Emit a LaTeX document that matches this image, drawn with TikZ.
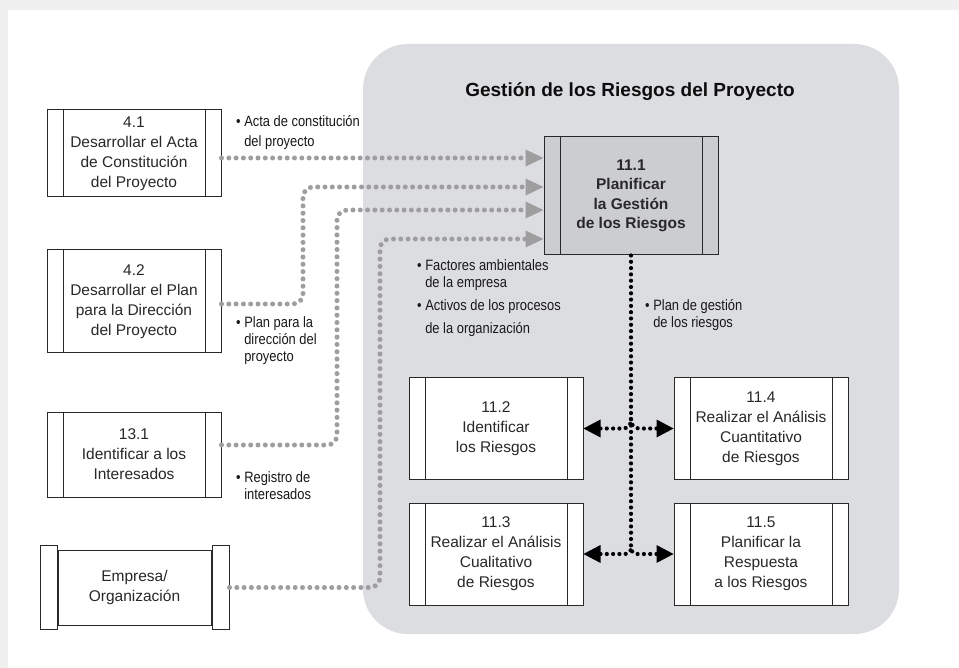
\documentclass[tikz,border=0pt]{standalone}
\usepackage{fontspec}
\setmainfont{Liberation Sans}
\newfontfamily\narrowfont[FakeStretch=0.86]{Liberation Sans}
\usetikzlibrary{arrows.meta, positioning}

\definecolor{zoneGray}{RGB}{220,221,224}
\definecolor{procGray}{RGB}{204,205,208}
\definecolor{dotGray}{RGB}{158,158,158}
\definecolor{pageGray}{RGB}{240,240,240}
\definecolor{inkDark}{RGB}{40,40,40}

\tikzset{
  proc/.style={draw=inkDark, fill=white, line width=1pt, minimum width=174pt, inner sep=0pt,
    align=center, text=inkDark, font=\fontsize{15.5}{20}\selectfont,
    path picture={\draw[inkDark, line width=1pt]
      ([xshift=16pt]path picture bounding box.north west) -- ([xshift=16pt]path picture bounding box.south west)
      ([xshift=-16pt]path picture bounding box.north east) -- ([xshift=-16pt]path picture bounding box.south east);}},
  scrollbar/.style={draw=inkDark, fill=white, line width=1pt, minimum width=17pt, minimum height=84pt, inner sep=0pt},
  note/.style={align=left, inner sep=0pt, anchor=west, text=black!90, font=\narrowfont\fontsize{15}{17}\selectfont},
  gline/.style={dotGray, line width=5pt, line cap=round, dash pattern=on 0pt off 7.3pt, rounded corners=10pt},
  ghead/.style={-{Triangle[length=18pt, width=17pt, line width=0pt]}},
  kline/.style={black, line width=4.2pt, line cap=round, dash pattern=on 0pt off 6.3pt},
  khead/.style={{Triangle[length=17pt, width=18pt, line width=0pt]}-}
}

\begin{document}
\begin{tikzpicture}[x=1pt, y=-1pt]
    \useasboundingbox (0,0) rectangle (959,668);
    % Page
    \fill[pageGray] (0,0) rectangle (959,668);
    \fill[white] (8,10) rectangle (959,668);
    % Knowledge area zone
    \fill[zoneGray, rounded corners=45pt] (363,44) rectangle (899,634);
    \node[font=\bfseries\fontsize{19}{22}\selectfont, text=black!95] (title) at (630,92) {Gestión de los Riesgos del Proyecto};
    % Outside processes
    \node[proc, minimum height=87pt] (n41) at (134,153.5) {4.1\\Desarrollar el Acta\\de Constitución\\del Proyecto};
    \node[proc, minimum height=103pt] (n42) at (134,301.5) {4.2\\Desarrollar el Plan\\para la Dirección\\del Proyecto};
    \node[proc, minimum height=85pt] (n131) at (134,454.5) {13.1\\Identificar a los\\Interesados};
    \node[draw=inkDark, fill=white, line width=1pt, minimum width=153pt, minimum height=75pt, inner sep=0pt,
          align=center, text=inkDark, font=\fontsize{15.5}{20}\selectfont] (emp) at (134.5,587.5) {Empresa/\\Organización};
    \node[scrollbar, anchor=east] (empL) at (emp.west) {};
    \node[scrollbar, anchor=west] (empR) at (emp.east) {};
    % Risk processes
    \node[proc, fill=procGray, minimum height=118pt, font=\bfseries\fontsize{15.5}{19.5}\selectfont] (p1) at (631,196) {11.1\\Planificar\\la Gestión\\de los Riesgos};
    \node[proc, minimum height=101pt] (p2) at (496,428.5) {11.2\\Identificar\\los Riesgos};
    \node[proc, minimum height=102pt] (p3) at (496,554) {11.3\\Realizar el Análisis\\Cualitativo\\de Riesgos};
    \node[proc, minimum height=101pt] (p4) at (761,428.5) {11.4\\Realizar el Análisis\\Cuantitativo\\de Riesgos};
    \node[proc, minimum height=102pt] (p5) at (761,554) {11.5\\Planificar la\\Respuesta\\a los Riesgos};
    % Inputs
    \draw[gline, ghead] (n41.east |- 0,158) -- (p1.west |- 0,158);
    \draw[gline, ghead] (n42.east |- 0,304) -| (303,187) -- (p1.west |- 0,187);
    \draw[gline, ghead] (n131.east |- 0,445) -| (337,210) -- (p1.west |- 0,210);
    \draw[gline, ghead] (empR.east) -| (380,239) -- (p1.west |- 0,239);
    % Output to the other processes
    \coordinate (jlow) at (p1.south |- 0,545);
    \draw[kline] (p1.south) -- (jlow);
    \draw[kline, khead, rounded corners=8pt] (p2.east) -| (p1.south |- 0,418);
    \draw[kline, khead, rounded corners=8pt] (p4.west) -| (p1.south |- 0,418);
    \draw[kline, khead, rounded corners=6pt] (p3.east) -| (jlow);
    \draw[kline, khead, rounded corners=6pt] (p5.west) -| (jlow);
    % Labels
    \node[note, font=\narrowfont\fontsize{15}{20}\selectfont] (lActa) at (236,133) {\textbullet\ Acta de constitución\\\phantom{\textbullet\ }del proyecto};
    \node[note] (lPlan) at (236,341) {\textbullet\ Plan para la\\\phantom{\textbullet\ }dirección del\\\phantom{\textbullet\ }proyecto};
    \node[note] (lReg) at (236,486) {\textbullet\ Registro de\\\phantom{\textbullet\ }interesados};
    \node[note] (lFact) at (417,275) {\textbullet\ Factores ambientales\\\phantom{\textbullet\ }de la empresa};
    \node[note, font=\narrowfont\fontsize{15}{23}\selectfont] (lAct) at (417,318) {\textbullet\ Activos de los procesos\\\phantom{\textbullet\ }de la organización};
    \node[note] (lPlanG) at (645,315) {\textbullet\ Plan de gestión\\\phantom{\textbullet\ }de los riesgos};
\end{tikzpicture}
\end{document}
